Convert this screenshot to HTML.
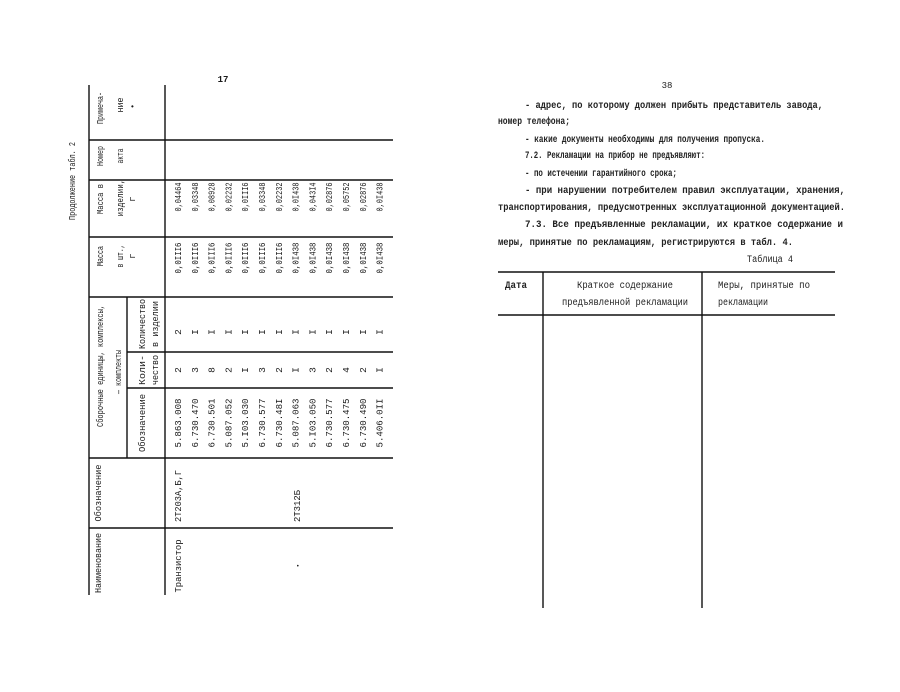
<!DOCTYPE html>
<html><head><meta charset="utf-8"><style>
html,body{margin:0;padding:0;background:#fff;}
svg{display:block;}
text{font-family:"Liberation Mono","DejaVu Sans Mono",monospace;fill:#1a1a1a;}
.l text{font-size:9.5px;}
.r text{font-size:10px;font-weight:bold;fill:#222;}
</style></head><body>
<svg width="900" height="692" viewBox="0 0 900 692" xmlns="http://www.w3.org/2000/svg">
<rect width="900" height="692" fill="#fff"/>
<g stroke="#111" stroke-width="1.4" fill="none">
<line x1="89" y1="85" x2="89" y2="595"/>
<line x1="165" y1="85" x2="165" y2="595"/>
<line x1="127" y1="297" x2="127" y2="458"/>
<line x1="89" y1="140" x2="393" y2="140"/>
<line x1="89" y1="180" x2="393" y2="180"/>
<line x1="89" y1="237" x2="393" y2="237"/>
<line x1="89" y1="297" x2="393" y2="297"/>
<line x1="127" y1="352" x2="393" y2="352"/>
<line x1="127" y1="388" x2="393" y2="388"/>
<line x1="89" y1="458" x2="393" y2="458"/>
<line x1="89" y1="528" x2="393" y2="528"/>
<line x1="498" y1="272" x2="835" y2="272"/>
<line x1="498" y1="315" x2="835" y2="315"/>
<line x1="543" y1="272" x2="543" y2="608"/>
<line x1="702" y1="272" x2="702" y2="608"/>
</g>
<g class="l">
<text x="223" y="82" text-anchor="middle" font-weight="bold" style="font-size:9px">17</text>
<text transform="translate(75,181) rotate(-90)" text-anchor="middle" textLength="78" lengthAdjust="spacingAndGlyphs">Продолжение табл. 2</text>
<text transform="translate(103,108) rotate(-90)" text-anchor="middle" textLength="32" lengthAdjust="spacingAndGlyphs">Примеча-</text>
<text transform="translate(123,105) rotate(-90)" text-anchor="middle" textLength="15" lengthAdjust="spacingAndGlyphs">ние</text>
<text x="130" y="109" style="font-size:8px">•</text>
<text transform="translate(103,156) rotate(-90)" text-anchor="middle" textLength="20" lengthAdjust="spacingAndGlyphs">Номер</text>
<text transform="translate(123,156) rotate(-90)" text-anchor="middle" textLength="15" lengthAdjust="spacingAndGlyphs">акта</text>
<text transform="translate(103,199) rotate(-90)" text-anchor="middle" textLength="30" lengthAdjust="spacingAndGlyphs">Масса в</text>
<text transform="translate(123,198) rotate(-90)" text-anchor="middle" textLength="37" lengthAdjust="spacingAndGlyphs">изделии,</text>
<text transform="translate(135,199) rotate(-90)" text-anchor="middle">г</text>
<text transform="translate(103,256) rotate(-90)" text-anchor="middle" textLength="20" lengthAdjust="spacingAndGlyphs">Масса</text>
<text transform="translate(123,256) rotate(-90)" text-anchor="middle" textLength="23" lengthAdjust="spacingAndGlyphs">в шт.,</text>
<text transform="translate(135,256) rotate(-90)" text-anchor="middle">г</text>
<text transform="translate(103,366) rotate(-90)" text-anchor="middle" textLength="122" lengthAdjust="spacingAndGlyphs">Сборочные единицы, комплексы,</text>
<text transform="translate(121,372) rotate(-90)" text-anchor="middle" textLength="44" lengthAdjust="spacingAndGlyphs">— комплекты</text>
<text transform="translate(145,423) rotate(-90)" text-anchor="middle" textLength="58" lengthAdjust="spacingAndGlyphs">Обозначение</text>
<text transform="translate(145,370) rotate(-90)" text-anchor="middle" textLength="30" lengthAdjust="spacingAndGlyphs">Коли-</text>
<text transform="translate(158,370) rotate(-90)" text-anchor="middle" textLength="30" lengthAdjust="spacingAndGlyphs">чество</text>
<text transform="translate(145,324) rotate(-90)" text-anchor="middle" textLength="50" lengthAdjust="spacingAndGlyphs">Количество</text>
<text transform="translate(158,324) rotate(-90)" text-anchor="middle" textLength="46" lengthAdjust="spacingAndGlyphs">в изделии</text>
<text transform="translate(101,493) rotate(-90)" text-anchor="middle" textLength="57" lengthAdjust="spacingAndGlyphs">Обозначение</text>
<text transform="translate(101,563) rotate(-90)" text-anchor="middle" textLength="60" lengthAdjust="spacingAndGlyphs">Наименование</text>
<text transform="translate(181,566) rotate(-90)" text-anchor="middle" textLength="53" lengthAdjust="spacingAndGlyphs">Транзистор</text>
<text transform="translate(181,496) rotate(-90)" text-anchor="middle" textLength="52" lengthAdjust="spacingAndGlyphs">2Т203А,Б,Г</text>
<text transform="translate(300,506) rotate(-90)" text-anchor="middle" textLength="32" lengthAdjust="spacingAndGlyphs">2Т312Б</text>
<text x="296" y="568" style="font-size:6px">•</text>
</g>
<g class="l">
<g transform="translate(181,0)">
<text transform="translate(0,423) rotate(-90)" text-anchor="middle" textLength="49" lengthAdjust="spacingAndGlyphs">5.863.008</text>
<text transform="translate(0,370) rotate(-90)" text-anchor="middle">2</text>
<text transform="translate(0,332) rotate(-90)" text-anchor="middle">2</text>
<text transform="translate(0,258) rotate(-90)" text-anchor="middle" textLength="31" lengthAdjust="spacingAndGlyphs">0,0III6</text>
<text transform="translate(0,197) rotate(-90)" text-anchor="middle" textLength="29" lengthAdjust="spacingAndGlyphs">0,04464</text>
</g>
<g transform="translate(197.8,0)">
<text transform="translate(0,423) rotate(-90)" text-anchor="middle" textLength="49" lengthAdjust="spacingAndGlyphs">6.730.470</text>
<text transform="translate(0,370) rotate(-90)" text-anchor="middle">3</text>
<text transform="translate(0,332) rotate(-90)" text-anchor="middle">I</text>
<text transform="translate(0,258) rotate(-90)" text-anchor="middle" textLength="31" lengthAdjust="spacingAndGlyphs">0,0III6</text>
<text transform="translate(0,197) rotate(-90)" text-anchor="middle" textLength="29" lengthAdjust="spacingAndGlyphs">0,03348</text>
</g>
<g transform="translate(214.6,0)">
<text transform="translate(0,423) rotate(-90)" text-anchor="middle" textLength="49" lengthAdjust="spacingAndGlyphs">6.730.501</text>
<text transform="translate(0,370) rotate(-90)" text-anchor="middle">8</text>
<text transform="translate(0,332) rotate(-90)" text-anchor="middle">I</text>
<text transform="translate(0,258) rotate(-90)" text-anchor="middle" textLength="31" lengthAdjust="spacingAndGlyphs">0,0III6</text>
<text transform="translate(0,197) rotate(-90)" text-anchor="middle" textLength="29" lengthAdjust="spacingAndGlyphs">0,08928</text>
</g>
<g transform="translate(231.4,0)">
<text transform="translate(0,423) rotate(-90)" text-anchor="middle" textLength="49" lengthAdjust="spacingAndGlyphs">5.087.052</text>
<text transform="translate(0,370) rotate(-90)" text-anchor="middle">2</text>
<text transform="translate(0,332) rotate(-90)" text-anchor="middle">I</text>
<text transform="translate(0,258) rotate(-90)" text-anchor="middle" textLength="31" lengthAdjust="spacingAndGlyphs">0,0III6</text>
<text transform="translate(0,197) rotate(-90)" text-anchor="middle" textLength="29" lengthAdjust="spacingAndGlyphs">0,02232</text>
</g>
<g transform="translate(248.2,0)">
<text transform="translate(0,423) rotate(-90)" text-anchor="middle" textLength="49" lengthAdjust="spacingAndGlyphs">5.I03.030</text>
<text transform="translate(0,370) rotate(-90)" text-anchor="middle">I</text>
<text transform="translate(0,332) rotate(-90)" text-anchor="middle">I</text>
<text transform="translate(0,258) rotate(-90)" text-anchor="middle" textLength="31" lengthAdjust="spacingAndGlyphs">0,0III6</text>
<text transform="translate(0,197) rotate(-90)" text-anchor="middle" textLength="29" lengthAdjust="spacingAndGlyphs">0,0III6</text>
</g>
<g transform="translate(265,0)">
<text transform="translate(0,423) rotate(-90)" text-anchor="middle" textLength="49" lengthAdjust="spacingAndGlyphs">6.730.577</text>
<text transform="translate(0,370) rotate(-90)" text-anchor="middle">3</text>
<text transform="translate(0,332) rotate(-90)" text-anchor="middle">I</text>
<text transform="translate(0,258) rotate(-90)" text-anchor="middle" textLength="31" lengthAdjust="spacingAndGlyphs">0,0III6</text>
<text transform="translate(0,197) rotate(-90)" text-anchor="middle" textLength="29" lengthAdjust="spacingAndGlyphs">0,03348</text>
</g>
<g transform="translate(281.8,0)">
<text transform="translate(0,423) rotate(-90)" text-anchor="middle" textLength="49" lengthAdjust="spacingAndGlyphs">6.730.48I</text>
<text transform="translate(0,370) rotate(-90)" text-anchor="middle">2</text>
<text transform="translate(0,332) rotate(-90)" text-anchor="middle">I</text>
<text transform="translate(0,258) rotate(-90)" text-anchor="middle" textLength="31" lengthAdjust="spacingAndGlyphs">0,0III6</text>
<text transform="translate(0,197) rotate(-90)" text-anchor="middle" textLength="29" lengthAdjust="spacingAndGlyphs">0,02232</text>
</g>
<g transform="translate(298.6,0)">
<text transform="translate(0,423) rotate(-90)" text-anchor="middle" textLength="49" lengthAdjust="spacingAndGlyphs">5.087.063</text>
<text transform="translate(0,370) rotate(-90)" text-anchor="middle">I</text>
<text transform="translate(0,332) rotate(-90)" text-anchor="middle">I</text>
<text transform="translate(0,258) rotate(-90)" text-anchor="middle" textLength="31" lengthAdjust="spacingAndGlyphs">0,0I438</text>
<text transform="translate(0,197) rotate(-90)" text-anchor="middle" textLength="29" lengthAdjust="spacingAndGlyphs">0,0I438</text>
</g>
<g transform="translate(315.4,0)">
<text transform="translate(0,423) rotate(-90)" text-anchor="middle" textLength="49" lengthAdjust="spacingAndGlyphs">5.I03.050</text>
<text transform="translate(0,370) rotate(-90)" text-anchor="middle">3</text>
<text transform="translate(0,332) rotate(-90)" text-anchor="middle">I</text>
<text transform="translate(0,258) rotate(-90)" text-anchor="middle" textLength="31" lengthAdjust="spacingAndGlyphs">0,0I438</text>
<text transform="translate(0,197) rotate(-90)" text-anchor="middle" textLength="29" lengthAdjust="spacingAndGlyphs">0,043I4</text>
</g>
<g transform="translate(332.2,0)">
<text transform="translate(0,423) rotate(-90)" text-anchor="middle" textLength="49" lengthAdjust="spacingAndGlyphs">6.730.577</text>
<text transform="translate(0,370) rotate(-90)" text-anchor="middle">2</text>
<text transform="translate(0,332) rotate(-90)" text-anchor="middle">I</text>
<text transform="translate(0,258) rotate(-90)" text-anchor="middle" textLength="31" lengthAdjust="spacingAndGlyphs">0,0I438</text>
<text transform="translate(0,197) rotate(-90)" text-anchor="middle" textLength="29" lengthAdjust="spacingAndGlyphs">0,02876</text>
</g>
<g transform="translate(349,0)">
<text transform="translate(0,423) rotate(-90)" text-anchor="middle" textLength="49" lengthAdjust="spacingAndGlyphs">6.730.475</text>
<text transform="translate(0,370) rotate(-90)" text-anchor="middle">4</text>
<text transform="translate(0,332) rotate(-90)" text-anchor="middle">I</text>
<text transform="translate(0,258) rotate(-90)" text-anchor="middle" textLength="31" lengthAdjust="spacingAndGlyphs">0,0I438</text>
<text transform="translate(0,197) rotate(-90)" text-anchor="middle" textLength="29" lengthAdjust="spacingAndGlyphs">0,05752</text>
</g>
<g transform="translate(365.8,0)">
<text transform="translate(0,423) rotate(-90)" text-anchor="middle" textLength="49" lengthAdjust="spacingAndGlyphs">6.730.490</text>
<text transform="translate(0,370) rotate(-90)" text-anchor="middle">2</text>
<text transform="translate(0,332) rotate(-90)" text-anchor="middle">I</text>
<text transform="translate(0,258) rotate(-90)" text-anchor="middle" textLength="31" lengthAdjust="spacingAndGlyphs">0,0I438</text>
<text transform="translate(0,197) rotate(-90)" text-anchor="middle" textLength="29" lengthAdjust="spacingAndGlyphs">0,02876</text>
</g>
<g transform="translate(382.6,0)">
<text transform="translate(0,423) rotate(-90)" text-anchor="middle" textLength="49" lengthAdjust="spacingAndGlyphs">5.406.0II</text>
<text transform="translate(0,370) rotate(-90)" text-anchor="middle">I</text>
<text transform="translate(0,332) rotate(-90)" text-anchor="middle">I</text>
<text transform="translate(0,258) rotate(-90)" text-anchor="middle" textLength="31" lengthAdjust="spacingAndGlyphs">0,0I438</text>
<text transform="translate(0,197) rotate(-90)" text-anchor="middle" textLength="29" lengthAdjust="spacingAndGlyphs">0,0I438</text>
</g>
</g>
<g class="r">
<text x="667" y="88" text-anchor="middle" style="font-size:9px;font-weight:normal">38</text>
<text x="525" y="108" textLength="298" lengthAdjust="spacingAndGlyphs">- адрес, по которому должен прибыть представитель завода,</text>
<text x="498" y="124" textLength="72" lengthAdjust="spacingAndGlyphs">номер телефона;</text>
<text x="525" y="142" textLength="240" lengthAdjust="spacingAndGlyphs">- какие документы необходимы для получения пропуска.</text>
<text x="525" y="158" textLength="180" lengthAdjust="spacingAndGlyphs">7.2. Рекламации на прибор не предъявляют:</text>
<text x="525" y="176" textLength="152" lengthAdjust="spacingAndGlyphs">- по истечении гарантийного срока;</text>
<text x="525" y="193" textLength="320" lengthAdjust="spacingAndGlyphs">- при нарушении потребителем правил эксплуатации, хранения,</text>
<text x="498" y="210" textLength="347" lengthAdjust="spacingAndGlyphs">транспортирования, предусмотренных эксплуатационной документацией.</text>
<text x="525" y="227" textLength="318" lengthAdjust="spacingAndGlyphs">7.3. Все предъявленные рекламации, их краткое содержание и</text>
<text x="498" y="245" textLength="295" lengthAdjust="spacingAndGlyphs">меры, принятые по рекламациям, регистрируются в табл. 4.</text>
<text x="747" y="262" textLength="46" lengthAdjust="spacingAndGlyphs" style="font-weight:normal">Таблица 4</text>
<text x="505" y="288" textLength="22" lengthAdjust="spacingAndGlyphs">Дата</text>
<text x="577" y="288" textLength="96" lengthAdjust="spacingAndGlyphs" style="font-weight:normal">Краткое содержание</text>
<text x="562" y="305" textLength="126" lengthAdjust="spacingAndGlyphs" style="font-weight:normal">предъявленной рекламации</text>
<text x="718" y="288" textLength="92" lengthAdjust="spacingAndGlyphs" style="font-weight:normal">Меры, принятые по</text>
<text x="718" y="305" textLength="50" lengthAdjust="spacingAndGlyphs" style="font-weight:normal">рекламации</text>
</g>
</svg>
</body></html>
